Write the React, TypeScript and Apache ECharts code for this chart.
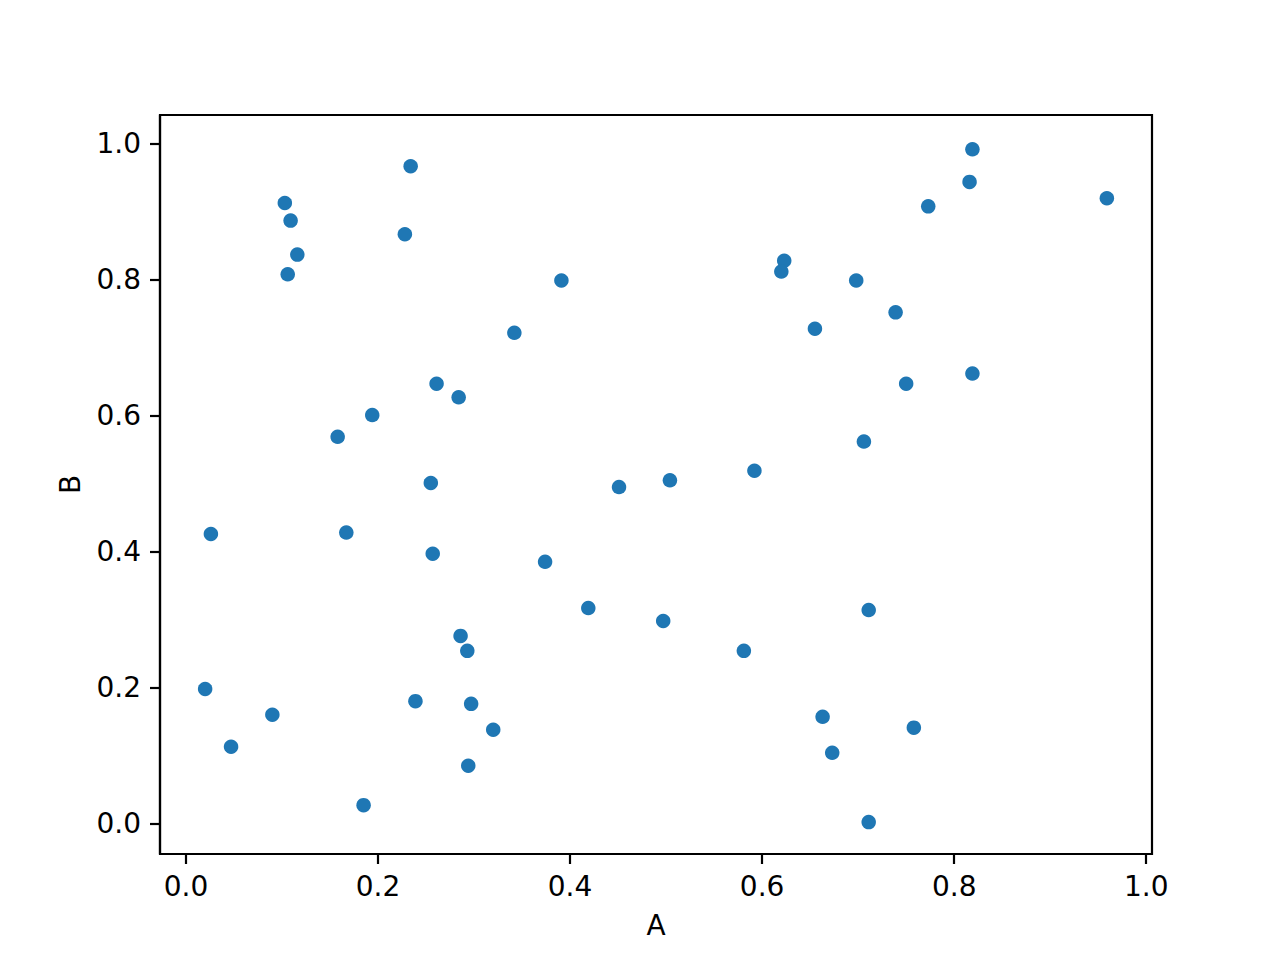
import React, { useEffect, useRef } from "react";
import * as echarts from "echarts";

const xValues = [
  0.234, 0.819, 0.816, 0.773, 0.959, 0.103, 0.109, 0.116, 0.106, 0.228,
  0.391, 0.342, 0.623, 0.62, 0.698, 0.739, 0.655, 0.819, 0.75, 0.261,
  0.284, 0.194, 0.158, 0.706, 0.592, 0.504, 0.451, 0.255, 0.026, 0.167,
  0.257, 0.374, 0.419, 0.497, 0.711, 0.581, 0.286, 0.293, 0.02, 0.09,
  0.047, 0.239, 0.297, 0.32, 0.294, 0.185, 0.663, 0.673, 0.758, 0.711,
];
const yValues = [
  0.967, 0.992, 0.944, 0.908, 0.92, 0.913, 0.887, 0.837, 0.808, 0.867,
  0.799, 0.722, 0.828, 0.812, 0.799, 0.752, 0.728, 0.662, 0.647, 0.647,
  0.627, 0.601, 0.569, 0.562, 0.519, 0.505, 0.495, 0.501, 0.426, 0.428,
  0.397, 0.385, 0.317, 0.298, 0.314, 0.254, 0.276, 0.254, 0.198, 0.16,
  0.113, 0.18, 0.176, 0.138, 0.085, 0.027, 0.157, 0.104, 0.141, 0.002,
];
const tickValues = [0, 0.2, 0.4, 0.6, 0.8, 1.0];

export default function App() {
  const ref = useRef<HTMLDivElement>(null);
  useEffect(() => {
    if (!ref.current) return;
    const chart = echarts.init(ref.current, null, { renderer: "svg" });
    const font = "DejaVu Sans";
    const axisCommon = {
      type: "value" as const,
      nameLocation: "middle" as const,
      nameTextStyle: { fontFamily: font, fontSize: 28, color: "#000" },
      splitLine: { show: false },
      axisLine: { show: true, onZero: false, lineStyle: { color: "#000", width: 2.2 } },
      axisTick: {
        show: true,
        inside: false,
        length: 10,
        lineStyle: { color: "#000", width: 2.2 },
        customValues: tickValues,
      },
      axisLabel: {
        fontFamily: font,
        fontSize: 28,
        color: "#000",
        margin: 19,
        customValues: tickValues,
        formatter: (v: number) => v.toFixed(1),
      },
    };
    chart.setOption({
      animation: false,
      backgroundColor: "#fff",
      grid: {
        left: 160,
        top: 115,
        width: 992,
        height: 739,
        show: true,
        borderColor: "#000",
        borderWidth: 2.2,
        containLabel: false,
      },
      xAxis: {
        ...axisCommon,
        name: "A",
        nameGap: 57,
        min: -0.027,
        max: 1.006,
        axisLabel: { ...axisCommon.axisLabel, margin: 18 },
      },
      yAxis: {
        ...axisCommon,
        name: "B",
        nameGap: 76,
        min: -0.0449,
        max: 1.0424,
      },
      series: [
        {
          type: "scatter",
          symbol: "circle",
          symbolSize: 14.5,
          itemStyle: { color: "#1f77b4", opacity: 1 },
          data: xValues.map((x, i) => [x, yValues[i]]),
        },
      ],
    });
    return () => chart.dispose();
  }, []);
  return (
    <div
      ref={ref}
      style={{ position: "absolute", left: 0, top: 0, width: 1280, height: 960 }}
    />
  );
}
